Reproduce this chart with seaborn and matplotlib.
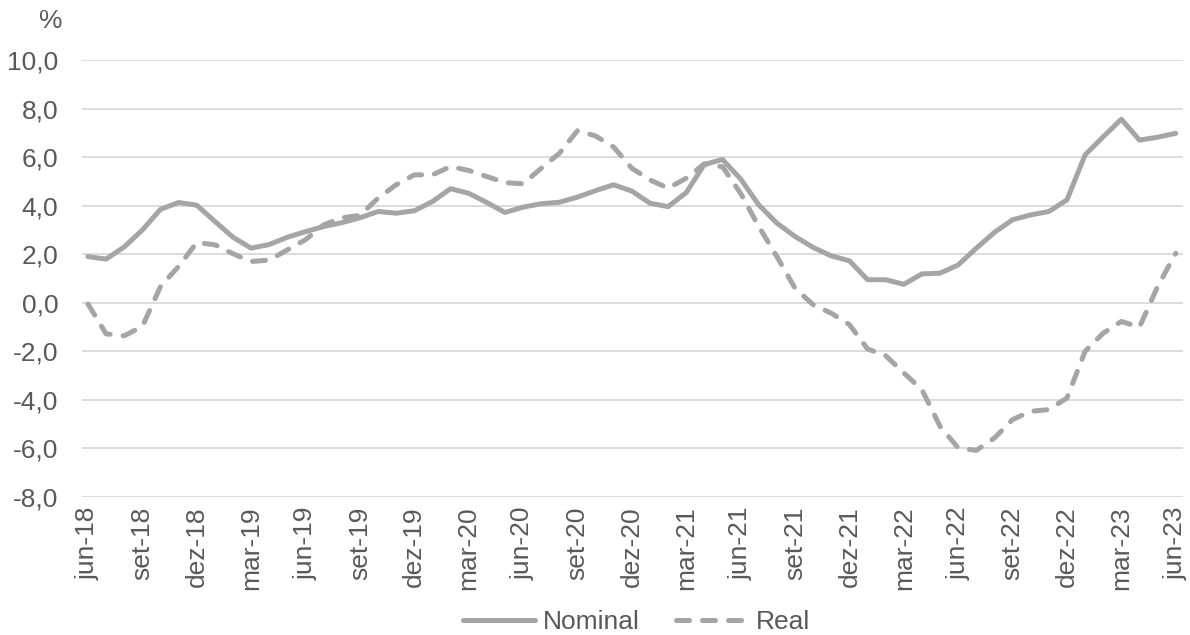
import matplotlib
matplotlib.use("Agg")
import matplotlib.pyplot as plt
import seaborn as sns
import pandas as pd
import numpy as np
from matplotlib.lines import Line2D

# ---------------- data ----------------
tick_labels = ["jun-18", "set-18", "dez-18", "mar-19", "jun-19", "set-19", "dez-19",
               "mar-20", "jun-20", "set-20", "dez-20", "mar-21", "jun-21", "set-21",
               "dez-21", "mar-22", "jun-22", "set-22", "dez-22", "mar-23", "jun-23"]

nominal = [1.90, 1.80, 2.30, 3.00, 3.85, 4.13, 4.02, 3.35, 2.70, 2.25,
           2.40, 2.70, 2.93, 3.14, 3.30, 3.50, 3.76, 3.69, 3.79, 4.17,
           4.70, 4.51, 4.13, 3.72, 3.94, 4.08, 4.14, 4.35, 4.62, 4.86,
           4.60, 4.10, 3.96, 4.54, 5.70, 5.90, 5.10, 4.03, 3.28, 2.73,
           2.28, 1.93, 1.73, 0.95, 0.95, 0.76, 1.19, 1.22, 1.56, 2.25,
           2.90, 3.42, 3.62, 3.76, 4.24, 6.09, 6.84, 7.56, 6.70, 6.82,
           6.98]

real = [-0.05, -1.28, -1.36, -0.97, 0.67, 1.50, 2.48, 2.39, 2.02, 1.70,
        1.76, 2.18, 2.60, 3.21, 3.50, 3.60, 4.31, 4.86, 5.27, 5.27,
        5.61, 5.45, 5.20, 4.95, 4.90, 5.54, 6.16, 7.09, 6.87, 6.41,
        5.54, 5.06, 4.72, 5.13, 5.72, 5.60, 4.51, 3.14, 1.90, 0.60,
        -0.08, -0.43, -0.90, -1.90, -2.18, -2.89, -3.58, -5.09, -5.98, -6.08,
        -5.57, -4.81, -4.47, -4.40, -3.92, -2.00, -1.25, -0.77, -1.00, 0.67,
        2.04]

series_names = ["Nominal", "Real"]

# ---------------- style ----------------
sns.set_theme(style="white")
plt.rcParams["font.family"] = ["Liberation Sans", "DejaVu Sans"]
text_color = "#595959"
line_color = "#A5A5A5"
grid_color = "#D9D9D9"
fs = 19
dash = (2.6, 2.6)

months = np.arange(len(nominal))
df = pd.DataFrame({
    "t": np.concatenate([months, months]),
    "v": nominal + real,
    "serie": [series_names[0]] * len(nominal) + [series_names[1]] * len(real),
})

fig = plt.figure(figsize=(11.9, 6.35), dpi=100)
ax = fig.add_axes([82 / 1190, 1 - 497 / 635, (1183 - 82) / 1190, (497 - 60) / 635])

lw = 5.0 * 72 / 100  # points
ax = sns.lineplot(data=df, x="t", y="v", hue="serie", style="serie",
                  palette=[line_color, line_color],
                  dashes={"Nominal": "", "Real": dash},
                  linewidth=lw, ax=ax, legend=False)
for ln in ax.get_lines():
    ln.set_solid_capstyle("round")
    ln.set_dash_capstyle("round")
    ln.set_solid_joinstyle("round")
    ln.set_dash_joinstyle("round")

ax.set_xlim(-0.33, 60.4)
ax.set_ylim(-8, 10)
yt = np.arange(-8, 10.1, 2)
ax.set_yticks(yt)
ax.set_yticklabels([f"{v:.1f}".replace(".", ",") for v in yt],
                   fontsize=fs, color=text_color)
ax.set_xticks(np.arange(0, len(nominal), 3))
ax.set_xticklabels(tick_labels, rotation=90, fontsize=fs, color=text_color)
ax.tick_params(axis="both", length=0)
ax.tick_params(axis="y", pad=17)
ax.tick_params(axis="x", pad=7)
ax.set_xlabel("")
ax.set_ylabel("")
for s in ax.spines.values():
    s.set_visible(False)
ax.yaxis.grid(True, color=grid_color, linewidth=1.3)
ax.xaxis.grid(False)
ax.set_axisbelow(True)

fig.text(51 / 1190, 1 - 21 / 635, "%", ha="center", va="center",
         fontsize=fs, color=text_color)

handles = [
    Line2D([], [], color=line_color, linewidth=lw, solid_capstyle="round"),
    Line2D([], [], color=line_color, linewidth=lw, linestyle=(0, dash),
           dash_capstyle="round"),
]
leg = fig.legend(handles, series_names, loc="center", bbox_to_anchor=(0.535, 0.02),
                 ncol=2, frameon=False, fontsize=fs, handlelength=2.7,
                 handletextpad=0.3, columnspacing=1.4)
for t in leg.get_texts():
    t.set_color(text_color)

fig.savefig("out.png", dpi=100)
